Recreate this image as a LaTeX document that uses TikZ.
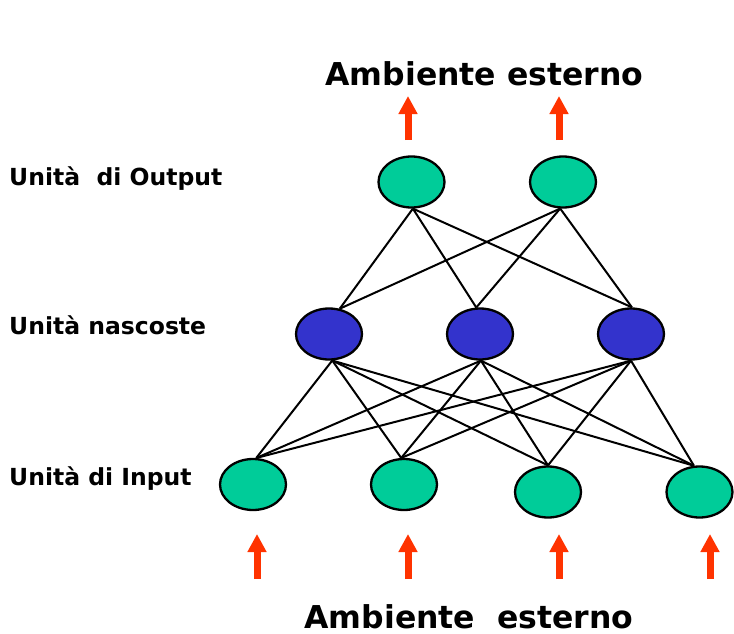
\documentclass[tikz,border=0pt]{standalone}
\usepackage{fontspec}
\setmainfont{DejaVu Sans}
\usetikzlibrary{shapes.geometric,arrows.meta}
\definecolor{nodegreen}{RGB}{0,204,153}
\definecolor{nodeblue}{RGB}{51,51,204}
\definecolor{arrowred}{RGB}{255,51,0}
\begin{document}
\begin{tikzpicture}[x=1pt,y=-1pt,
  unit/.style={ellipse,draw=black,line width=2.3pt,minimum width=66pt,minimum height=51pt,inner sep=0pt},
  outunit/.style={unit,fill=nodegreen},
  hidunit/.style={unit,fill=nodeblue},
  inunit/.style={unit,fill=nodegreen},
  link/.style={draw=black,line width=2pt},
  envarrow/.style={draw=arrowred,line width=7pt,-{Triangle[width=18pt,length=18pt]}},
  layerlabel/.style={anchor=base west,inner sep=0pt,font=\fontsize{23.5}{28}\selectfont\bfseries},
  envtext/.style={anchor=base,inner sep=0pt,text depth=0pt,font=\fontsize{31.5}{38}\selectfont\bfseries}
]
\useasboundingbox (0,0) rectangle (734,634);

% nodes
\node[outunit] (o1) at (411.5,182) {};
\node[outunit] (o2) at (563,182) {};
\node[hidunit] (h1) at (329,334) {};
\node[hidunit] (h2) at (480,334) {};
\node[hidunit] (h3) at (631,334) {};
\node[inunit] (i1) at (253,484.5) {};
\node[inunit] (i2) at (404,484.5) {};
\node[inunit] (i3) at (548,492) {};
\node[inunit] (i4) at (699.5,492) {};

% output-hidden links
\foreach \o/\oa in {o1/-87,o2/-96}{
  \foreach \h/\ha in {h1/67,h2/98,h3/88}{
    \draw[link] (\o.\oa) -- (\h.\ha);
  }
}
% hidden-input links
\foreach \h/\ha in {h1/-83,h2/-88,h3/-90}{
  \foreach \i/\ia in {i1/83,i2/96,i3/90,i4/102}{
    \draw[link] (\h.\ha) -- (\i.\ia);
  }
}

% labels
\node[layerlabel] (lo) at (9,185) {Unità\ \ di Output};
\node[layerlabel] (lh) at (9,334) {Unità nascoste};
\node[layerlabel] (li) at (9,485) {Unità di Input};
\node[envtext] (top) at (484.5,85.7) {Ambiente esterno};
\node[envtext] (bot) at (469,628.5) {Ambiente\ \ esterno};

% arrows
\coordinate (ta1s) at (408,140); \coordinate (ta1e) at (408,96);
\coordinate (ta2s) at (559,140); \coordinate (ta2e) at (559,96);
\draw[envarrow] (ta1s) -- (ta1e);
\draw[envarrow] (ta2s) -- (ta2e);
\foreach \x [count=\k] in {257,408,559,710}{
  \coordinate (ba\k s) at (\x,579);
  \coordinate (ba\k e) at (\x,534);
  \draw[envarrow] (ba\k s) -- (ba\k e);
}
\end{tikzpicture}
\end{document}
